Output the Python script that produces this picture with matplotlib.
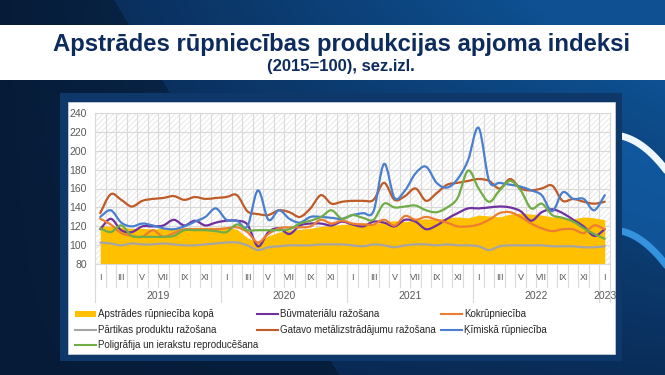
import numpy as np
import matplotlib
matplotlib.use('Agg')
import matplotlib.pyplot as plt
import matplotlib.transforms as mtransforms
from matplotlib.path import Path
from matplotlib.patches import PathPatch, Rectangle
from matplotlib.lines import Line2D

plt.rcParams['font.family'] = ['Liberation Sans', 'DejaVu Sans']
plt.rcParams['hatch.linewidth'] = 0.5

# --- dati: 2019. g. janvāris ... 2023. g. janvāris (49 mēneši) ---
romiesu = ['I', 'II', 'III', 'IV', 'V', 'VI', 'VII', 'VIII', 'IX', 'X', 'XI', 'XII']
menesi = romiesu * 4 + ['I']
gadi = ['2019', '2020', '2021', '2022', '2023']

kopa = [121, 120, 119, 118, 118, 117, 118, 118, 118, 119, 119, 119,
        119, 117, 108, 103, 110, 114, 116, 117, 118, 120, 121, 122,
        123, 124, 122, 125, 126, 125, 127, 128, 127, 129, 130, 129,
        132, 131, 130, 133, 134, 133, 132, 130, 129, 128, 130, 129,
        127]
buvmat = [117, 128, 116, 114, 120, 120, 121, 127, 121, 126, 121, 124,
          126, 126, 122, 99, 114, 118, 112, 121, 123, 123, 121, 125,
          122, 120, 125, 124, 120, 127, 125, 117, 121, 128, 134, 139,
          139, 140, 141, 140, 136, 126, 135, 138, 134, 127, 120, 110,
          117]
kokr = [128, 122, 113, 110, 109, 116, 109, 113, 117, 117, 117, 117,
        118, 119, 114, 103, 112, 118, 119, 119, 120, 127, 123, 126,
        123, 122, 122, 127, 121, 131, 127, 130, 127, 124, 120, 120,
        122, 127, 134, 135, 130, 123, 118, 115, 117, 117, 113, 121,
        117]
partika = [103, 102, 100, 102, 101, 101, 102, 101, 100, 100, 101, 102,
           103, 103, 100, 95, 98, 99, 100, 100, 100, 101, 101, 101,
           100, 99, 101, 100, 98, 100, 101, 101, 100, 101, 100, 100,
           99, 95, 99, 100, 100, 100, 100, 99, 99, 99, 98, 98,
           99]
metal = [134, 154, 148, 141, 147, 149, 150, 152, 148, 151, 149, 150,
         151, 153, 136, 133, 132, 137, 135, 130, 139, 153, 144, 146,
         147, 147, 148, 166, 148, 152, 160, 147, 155, 164, 166, 168,
         170, 168, 160, 170, 160, 158, 160, 163, 147, 149, 146, 144,
         146]
kimija = [130, 137, 124, 120, 123, 121, 118, 117, 120, 125, 130, 139,
          127, 126, 120, 158, 127, 137, 128, 124, 130, 130, 129, 128,
          132, 134, 136, 186, 150, 158, 176, 183, 166, 161, 170, 190,
          224, 168, 166, 164, 162, 158, 153, 136, 156, 149, 149, 137,
          153]
poligr = [118, 114, 121, 110, 109, 109, 109, 110, 116, 116, 116, 115,
          114, 122, 116, 116, 116, 116, 117, 123, 126, 130, 137, 128,
          132, 129, 127, 144, 140, 141, 142, 137, 135, 140, 150, 179,
          160, 146, 158, 168, 158, 139, 144, 132, 129, 125, 118, 112,
          107]

W, H = 665, 375


def fx(x):
    return x / W


def fy(y):
    return 1 - y / H


fig = plt.figure(figsize=(W / 100, H / 100), dpi=100)

# --- fons ---
bg = fig.add_axes([0, 0, 1, 1])
bg.set_xlim(0, W)
bg.set_ylim(H, 0)
bg.axis('off')
X, Y = np.meshgrid(np.arange(W), np.arange(H))
tumsa = np.array([9, 38, 78]) / 255
gaisa = np.array([14, 80, 145]) / 255
t = np.clip((X / W) * (1.15 - Y / H) * 1.1, 0, 1)
img = tumsa * (1 - t[..., None]) + gaisa * t[..., None]
kreisais = X < 114 + Y * 0.6
img[kreisais] = img[kreisais] * 0.72
bg.imshow(img, extent=[0, W, H, 0], aspect='auto', zorder=0)
# gaišās loka svītras labajā pusē
xs = np.linspace(612, 665, 30)
bg.fill_between(xs, 138 + 0.012 * (xs - 612) ** 2, 232 + 0.012 * (xs - 612) ** 2,
                color='#1463b0', alpha=0.6, lw=0, zorder=1)
bg.plot(xs, 135 + 0.012 * (xs - 612) ** 2, color='#eef7ff', lw=5, zorder=1)
bg.plot(xs, 230 + 0.012 * (xs - 612) ** 2, color='#3a9ae8', lw=5, alpha=0.9, zorder=1)
bg.add_patch(Rectangle((0, 25), W, 55, facecolor='white', edgecolor='none', zorder=2))
bg.add_patch(Rectangle((60, 93), 562, 268, facecolor='#0e386a', edgecolor='none', zorder=2))
bg.add_patch(Rectangle((68, 102), 547, 252, facecolor='white', edgecolor='#cfd6de', lw=0.5, zorder=3))

fig.text(fx(342), fy(44), 'Apstrādes rūpniecības produkcijas apjoma indeksi',
         ha='center', va='center', fontsize=17.2, fontweight='bold', color='#0d2b5c')
fig.text(fx(341), fy(66), '(2015=100), sez.izl.', ha='center', va='center',
         fontsize=12, fontweight='bold', color='#0d2b5c')

# --- diagramma ---
ax = fig.add_axes([fx(95), fy(264.3), 515 / W, 151.6 / H])
ax.set_facecolor('white')
ax.add_patch(Rectangle((0, 0), 1, 1, transform=ax.transAxes, facecolor='white',
                       edgecolor='#e0e0e0', hatch='//////', lw=0, zorder=0))
x = np.arange(len(menesi))
ax.set_xlim(-0.5, len(menesi) - 0.5)
ax.set_ylim(80, 240)
ax.set_yticks(range(80, 241, 20))
ax.set_xticks(np.arange(-0.5, len(menesi), 1), minor=True)
ax.set_xticks([])
ax.grid(axis='y', color='#d9d9d9', lw=0.8, zorder=1)
ax.grid(axis='x', which='minor', color='#d9d9d9', lw=0.8, zorder=1)
ax.tick_params(axis='y', length=0, labelsize=7.5, labelcolor='#595959', pad=6)
ax.tick_params(axis='x', which='both', length=0)
for s in ax.spines.values():
    s.set_color('#d9d9d9')
    s.set_linewidth(0.8)

ax.fill_between(x, 80, kopa, color='#FFC000', lw=0, zorder=2)


def gluda_linija(vertibas, krasa):
    p = np.column_stack([x, np.asarray(vertibas, float)])
    ext = np.vstack([p[0], p, p[-1]])
    verts = [p[0]]
    codes = [Path.MOVETO]
    for i in range(len(p) - 1):
        p0, p1, p2, p3 = ext[i], ext[i + 1], ext[i + 2], ext[i + 3]
        verts += [p1 + (p2 - p0) / 6, p2 - (p3 - p1) / 6, p2]
        codes += [Path.CURVE4] * 3
    ax.add_patch(PathPatch(Path(verts, codes), fill=False, edgecolor=krasa, lw=1.6,
                           capstyle='round', joinstyle='round', zorder=3))


serijas = [
    ('Būvmateriālu ražošana', buvmat, '#7030A0'),
    ('Kokrūpniecība', kokr, '#ED7D31'),
    ('Pārtikas produktu ražošana', partika, '#A5A5A5'),
    ('Gatavo metālizstrādājumu ražošana', metal, '#BE5B26'),
    ('Ķīmiskā rūpniecība', kimija, '#4A7FCF'),
    ('Poligrāfija un ierakstu reproducēšana', poligr, '#70AD47'),
]
for nosaukums, vert, krasa in serijas:
    gluda_linija(vert, krasa)

# x ass: mēneši un gadi
trans = mtransforms.blended_transform_factory(ax.transData, ax.transAxes)
for i, m in enumerate(menesi):
    if i % 2 == 0:
        ax.text(i, -0.09, m, transform=trans, ha='center', va='center',
                fontsize=6.5, color='#595959', clip_on=False)
for b in np.arange(-0.5, len(menesi), 1):
    ax.plot([b, b], [0, -0.15], transform=trans, color='#d9d9d9', lw=0.8, clip_on=False)
for b in [-0.5, 11.5, 23.5, 35.5, 47.5, 48.5]:
    ax.plot([b, b], [0, -0.25], transform=trans, color='#d9d9d9', lw=0.8, clip_on=False)
for k, g in enumerate(gadi):
    centrs = 5.5 + 12 * k if k < 4 else 48
    ax.text(centrs, -0.21, g, transform=trans, ha='center', va='center',
            fontsize=7.5, color='#595959', clip_on=False)

# --- leģenda ---
leg = [
    ('Apstrādes rūpniecība kopā', '#FFC000', 75, 314, True),
    ('Būvmateriālu ražošana', '#7030A0', 257, 314, False),
    ('Kokrūpniecība', '#ED7D31', 441, 314, False),
    ('Pārtikas produktu ražošana', '#A5A5A5', 75, 330, False),
    ('Gatavo metālizstrādājumu ražošana', '#BE5B26', 257, 330, False),
    ('Ķīmiskā rūpniecība', '#4A7FCF', 441, 330, False),
    ('Poligrāfija un ierakstu reproducēšana', '#70AD47', 75, 345, False),
]
for teksts, krasa, lx, ly, laukums in leg:
    if laukums:
        fig.add_artist(Rectangle((fx(lx), fy(ly + 3)), 21 / W, 6 / H, transform=fig.transFigure,
                                 facecolor=krasa, edgecolor='none'))
    else:
        fig.add_artist(Line2D([fx(lx), fx(lx + 21)], [fy(ly), fy(ly)], transform=fig.transFigure,
                              color=krasa, lw=1.5))
    fig.text(fx(lx + 23), fy(ly), teksts, ha='left', va='center', fontsize=7, color='#262626')

fig.savefig('out.png', dpi=100)
